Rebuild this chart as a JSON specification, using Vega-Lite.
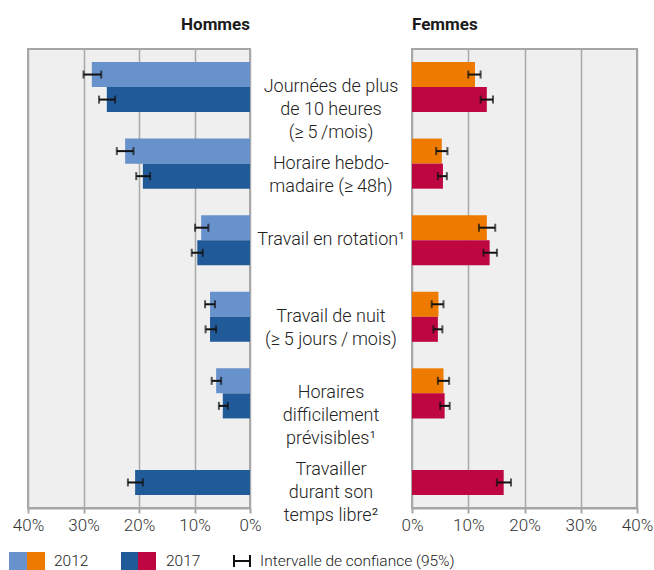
{
  "$schema": "https://vega.github.io/schema/vega-lite/v6.json",
  "padding": {"left": 8, "top": 15, "right": 5, "bottom": 0},
  "bounds": "flush",
  "spacing": 6,
  "resolve": {"scale": {"color": "independent", "stroke": "independent"}, "legend": {"color": "independent", "stroke": "independent"}},
  "config": {
    "font": "Roboto",
    "view": {"stroke": "#a6a6a6", "strokeWidth": 2, "fill": "#efefef"},
    "axis": {
      "domainColor": "#a6a6a6", "domainWidth": 2,
      "tickColor": "#a6a6a6", "tickWidth": 2, "tickSize": 5,
      "gridColor": "#a9a9a9", "gridWidth": 1.5,
      "labelFontSize": 17, "labelColor": "#333333", "labelFont": "Roboto", "labelFontWeight": 300,
      "labelPadding": 4, "labelFlush": false, "labelOverlap": false
    },
    "legend": {"labelFont": "Roboto", "labelFontWeight": 300, "labelFontSize": 15.5, "labelColor": "#222222", "labelLimit": 400}
  },
  "datasets": {
    "bars": [
      {"cat": "J", "sex": "Hommes", "year": "2012", "value": 28.5, "lo": 26.8, "hi": 30.0},
      {"cat": "J", "sex": "Hommes", "year": "2017", "value": 25.8, "lo": 24.3, "hi": 27.2},
      {"cat": "H", "sex": "Hommes", "year": "2012", "value": 22.5, "lo": 21.0, "hi": 24.0},
      {"cat": "H", "sex": "Hommes", "year": "2017", "value": 19.3, "lo": 18.0, "hi": 20.5},
      {"cat": "R", "sex": "Hommes", "year": "2012", "value": 8.8, "lo": 7.5, "hi": 9.9},
      {"cat": "R", "sex": "Hommes", "year": "2017", "value": 9.5, "lo": 8.5, "hi": 10.5},
      {"cat": "N", "sex": "Hommes", "year": "2012", "value": 7.2, "lo": 6.3, "hi": 8.1},
      {"cat": "N", "sex": "Hommes", "year": "2017", "value": 7.2, "lo": 6.1, "hi": 8.0},
      {"cat": "D", "sex": "Hommes", "year": "2012", "value": 6.1, "lo": 5.2, "hi": 6.9},
      {"cat": "D", "sex": "Hommes", "year": "2017", "value": 4.9, "lo": 4.0, "hi": 5.6},
      {"cat": "T", "sex": "Hommes", "year": "2017", "value": 20.7, "lo": 19.3, "hi": 22.0},
      {"cat": "J", "sex": "Femmes", "year": "2012", "value": 11.2, "lo": 10.0, "hi": 12.2},
      {"cat": "J", "sex": "Femmes", "year": "2017", "value": 13.3, "lo": 12.2, "hi": 14.4},
      {"cat": "H", "sex": "Femmes", "year": "2012", "value": 5.3, "lo": 4.3, "hi": 6.3},
      {"cat": "H", "sex": "Femmes", "year": "2017", "value": 5.5, "lo": 4.6, "hi": 6.2},
      {"cat": "R", "sex": "Femmes", "year": "2012", "value": 13.3, "lo": 11.9, "hi": 14.8},
      {"cat": "R", "sex": "Femmes", "year": "2017", "value": 13.8, "lo": 12.7, "hi": 15.1},
      {"cat": "N", "sex": "Femmes", "year": "2012", "value": 4.7, "lo": 3.5, "hi": 5.6},
      {"cat": "N", "sex": "Femmes", "year": "2017", "value": 4.6, "lo": 3.8, "hi": 5.4},
      {"cat": "D", "sex": "Femmes", "year": "2012", "value": 5.6, "lo": 4.6, "hi": 6.6},
      {"cat": "D", "sex": "Femmes", "year": "2017", "value": 5.8, "lo": 5.0, "hi": 6.7},
      {"cat": "T", "sex": "Femmes", "year": "2017", "value": 16.3, "lo": 15.1, "hi": 17.6}
    ],
    "labels": [
      {"cat": "J", "label": "Journées de plus\nde 10 heures\n(≥\u20095\u2009/mois)"},
      {"cat": "H", "label": "Horaire hebdo-\nmadaire (≥\u200948h)"},
      {"cat": "R", "label": "Travail en rotation¹"},
      {"cat": "N", "label": "Travail de nuit\n(≥\u20095 jours\u2009/\u2009mois)"},
      {"cat": "D", "label": "Horaires\ndifficilement\nprévisibles¹"},
      {"cat": "T", "label": "Travailler\ndurant son\ntemps libre²"}
    ]
  },
  "hconcat": [
    {
      "width": 222,
      "height": 459,
      "title": {"text": "Hommes", "anchor": "end", "frame": "group", "fontSize": 17, "fontWeight": "bold", "offset": 15, "color": "#1a1a1a", "font": "Roboto"},
      "data": {"name": "bars"},
      "transform": [{"filter": "datum.sex === 'Hommes'"}],
      "encoding": {
        "y": {"field": "cat", "type": "nominal", "scale": {"domain": ["J", "H", "R", "N", "D", "T"], "paddingInner": 0.346, "paddingOuter": 0.17}, "axis": null},
        "yOffset": {"field": "year", "type": "nominal", "scale": {"domain": ["2012", "2017"], "paddingInner": 0, "paddingOuter": 0}}
      },
      "layer": [
        {
          "mark": "bar",
          "encoding": {
            "x": {"field": "value", "type": "quantitative", "scale": {"domain": [0, 40], "reverse": true},
                  "axis": {"values": [0, 10, 20, 30, 40], "labelExpr": "datum.value + '%'", "title": null, "grid": true}},
            "color": {"field": "year", "type": "nominal", "scale": {"domain": ["2012", "2017"], "range": ["#6892cc", "#215a98"]},
                      "legend": {"orient": "none", "legendX": -19, "legendY": 503, "direction": "horizontal", "title": null,
                                 "symbolType": "square", "symbolSize": 324, "symbolStrokeWidth": 0, "symbolOpacity": 1,
                                 "labelOffset": 27, "columnPadding": 32, "padding": 0}}
          }
        },
        {
          "mark": {"type": "rule", "strokeWidth": 2},
          "encoding": {
            "x": {"field": "lo", "type": "quantitative"},
            "x2": {"field": "hi"},
            "stroke": {"datum": "Intervalle de confiance (95%)", "type": "nominal", "scale": {"range": ["#111111"]},
                       "legend": {"orient": "none", "legendX": 205, "legendY": 503, "title": null,
                                  "symbolType": "M-1,-0.75V0.75M-1,0H1M1,-0.75V0.75", "symbolSize": 256,
                                  "symbolStrokeWidth": 2, "symbolStrokeColor": "#111111", "symbolFillColor": "transparent",
                                  "labelOffset": 9, "padding": 0}}
          }
        },
        {"mark": {"type": "tick", "thickness": 2, "size": 8, "color": "#111111"}, "encoding": {"x": {"field": "lo", "type": "quantitative"}}},
        {"mark": {"type": "tick", "thickness": 2, "size": 8, "color": "#111111"}, "encoding": {"x": {"field": "hi", "type": "quantitative"}}}
      ]
    },
    {
      "width": 150,
      "height": 459,
      "view": {"stroke": null, "fill": null},
      "data": {"name": "labels"},
      "mark": {"type": "text", "lineBreak": "\n", "fontSize": 18, "lineHeight": 23, "align": "center", "baseline": "middle", "color": "#222222", "font": "Roboto", "fontWeight": 300},
      "encoding": {
        "y": {"field": "cat", "type": "nominal", "scale": {"domain": ["J", "H", "R", "N", "D", "T"], "paddingInner": 0.346, "paddingOuter": 0.17}, "axis": null},
        "text": {"field": "label"}
      }
    },
    {
      "width": 225,
      "height": 459,
      "title": {"text": "Femmes", "anchor": "start", "frame": "group", "fontSize": 17, "fontWeight": "bold", "offset": 15, "color": "#1a1a1a", "font": "Roboto"},
      "data": {"name": "bars"},
      "transform": [{"filter": "datum.sex === 'Femmes'"}],
      "encoding": {
        "y": {"field": "cat", "type": "nominal", "scale": {"domain": ["J", "H", "R", "N", "D", "T"], "paddingInner": 0.346, "paddingOuter": 0.17}, "axis": null},
        "yOffset": {"field": "year", "type": "nominal", "scale": {"domain": ["2012", "2017"], "paddingInner": 0, "paddingOuter": 0}}
      },
      "layer": [
        {
          "mark": "bar",
          "encoding": {
            "x": {"field": "value", "type": "quantitative", "scale": {"domain": [0, 40]},
                  "axis": {"values": [0, 10, 20, 30, 40], "labelExpr": "datum.value + '%'", "title": null, "grid": true}},
            "color": {"field": "year", "type": "nominal", "scale": {"domain": ["2012", "2017"], "range": ["#ee7b00", "#be0640"]},
                      "legend": {"orient": "none", "legendX": -385, "legendY": 503, "direction": "horizontal", "title": null,
                                 "symbolType": "square", "symbolSize": 324, "symbolStrokeWidth": 0, "symbolOpacity": 1,
                                 "labelExpr": "''", "labelOffset": 0, "columnPadding": 93, "padding": 0}}
          }
        },
        {"mark": {"type": "rule", "strokeWidth": 2, "color": "#111111"}, "encoding": {"x": {"field": "lo", "type": "quantitative"}, "x2": {"field": "hi"}}},
        {"mark": {"type": "tick", "thickness": 2, "size": 8, "color": "#111111"}, "encoding": {"x": {"field": "lo", "type": "quantitative"}}},
        {"mark": {"type": "tick", "thickness": 2, "size": 8, "color": "#111111"}, "encoding": {"x": {"field": "hi", "type": "quantitative"}}}
      ]
    }
  ]
}
